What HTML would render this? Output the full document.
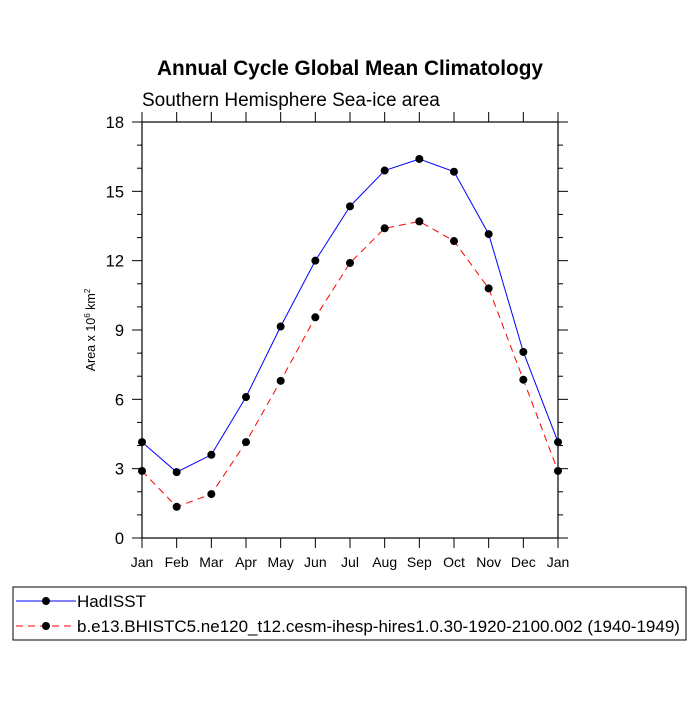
<!DOCTYPE html>
<html><head><meta charset="utf-8"><style>
body{margin:0;background:#fff;}
svg text{font-family:"Liberation Sans",Arial,sans-serif;}
</style></head><body>
<svg id="chart" width="700" height="700" xmlns="http://www.w3.org/2000/svg">
<rect width="700" height="700" fill="#fff"/>
<text x="350" y="75" text-anchor="middle" font-size="20.8" font-weight="bold">Annual Cycle Global Mean Climatology</text>
<text x="142" y="106" font-size="19">Southern Hemisphere Sea-ice area</text>
<text transform="translate(95,330) rotate(-90)" text-anchor="middle" font-size="12.5">Area x 10<tspan dy="-5" font-size="8">6</tspan><tspan dy="5"> km</tspan><tspan dy="-5" font-size="8">2</tspan></text>
<g id="axes"></g>
<g id="series"></g>
<rect x="13" y="587" width="673" height="53" fill="none" stroke="#000" stroke-width="1"/>
<g>
<line x1="16" y1="601" x2="76" y2="601" stroke="#0000ff" stroke-width="1"/>
<circle cx="46" cy="601" r="4" fill="#000"/>
<text x="77" y="607" font-size="17">HadISST</text>
</g>
<g>
<line x1="16" y1="626" x2="76" y2="626" stroke="#ff0000" stroke-width="1" stroke-dasharray="7,5"/>
<circle cx="46" cy="626" r="4" fill="#000"/>
<text x="77" y="632" font-size="17">b.e13.BHISTC5.ne120_t12.cesm-ihesp-hires1.0.30-1920-2100.002 (1940-1949)</text>
</g>
</svg>
<script>
const months=["Jan","Feb","Mar","Apr","May","Jun","Jul","Aug","Sep","Oct","Nov","Dec","Jan"];
const hadisst=[4.15,2.85,3.6,6.1,9.15,12.0,14.35,15.9,16.4,15.85,13.15,8.05,4.15];
const model=[2.9,1.35,1.9,4.15,6.8,9.55,11.9,13.4,13.7,12.85,10.8,6.85,2.9];
const yTicks=[0,3,6,9,12,15,18];
const NS="http://www.w3.org/2000/svg";
const L=142,R=558,T=122,B=538;
const xs=i=>L+(R-L)*i/(months.length-1);
const ys=v=>B-(B-T)*v/18;
function mk(tag,attrs,parent){const e=document.createElementNS(NS,tag);for(const k in attrs)e.setAttribute(k,attrs[k]);parent.appendChild(e);return e;}
const ax=document.getElementById('axes');
const frame=mk('rect',{x:L,y:T,width:R-L,height:B-T,fill:'none',stroke:'#000','stroke-width':1.2},ax);


months.forEach((m,i)=>{
  const x=xs(i);
  mk('line',{x1:x,y1:B,x2:x,y2:B+10,stroke:'#000'},ax);
  mk('line',{x1:x,y1:T,x2:x,y2:T-10,stroke:'#000'},ax);
  const t=mk('text',{x:x,y:B+29,'text-anchor':'middle','font-size':14},ax);
  t.textContent=m;
  
  
});
for(let v=0;v<=18;v++){
  const y=ys(v);const major=v%3===0;const len=major?10:5;
  mk('line',{x1:L,y1:y,x2:L-len,y2:y,stroke:'#000'},ax);
  mk('line',{x1:R,y1:y,x2:R+len,y2:y,stroke:'#000'},ax);
}
yTicks.forEach(v=>{
  const t=mk('text',{x:L-18,y:ys(v)+6,'text-anchor':'end','font-size':16.5},ax);
  t.textContent=v;
  
  
});
const sg=document.getElementById('series');
function draw(vals,color,dash,name){
  const g=mk('g',{},sg);
  
  
  const pts=vals.map((v,i)=>xs(i)+','+ys(v)).join(' ');
  const a={points:pts,fill:'none',stroke:color,'stroke-width':1};
  if(dash)a['stroke-dasharray']=dash;
  mk('polyline',a,g);
  vals.forEach((v,i)=>{
    const c=mk('circle',{cx:xs(i),cy:ys(v),r:4,fill:'#000'},g);
    
    
  });
}
draw(model,'#ff0000','7,5','model-series');
draw(hadisst,'#0000ff',null,'hadisst-series');
</script>
</body></html>
